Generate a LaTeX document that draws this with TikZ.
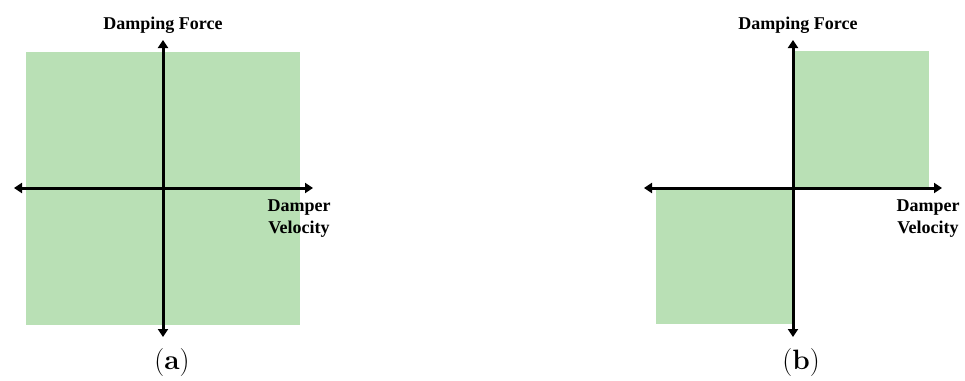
\documentclass[tikz,border=0pt]{standalone}
\usepackage{fontspec}
\setmainfont{Liberation Serif}
\newfontfamily\capfont{Latin Modern Roman}
\usetikzlibrary{arrows.meta}
\definecolor{regiongreen}{RGB}{185,224,181}
\tikzset{
  region/.style={fill=regiongreen, draw=none},
  axisline/.style={line width=3pt, {Triangle[width=10pt,length=8pt]}-{Triangle[width=10pt,length=8pt]}},
  axislabel/.style={font=\fontsize{18}{22}\selectfont\bfseries, align=center, inner sep=0pt},
  caption/.style={font=\capfont\fontsize{28}{30}\selectfont, inner sep=0pt}
}
\begin{document}
\begin{tikzpicture}[x=1pt, y=-1pt]
  \useasboundingbox (0,0) rectangle (965,380);

  % ---- (a): damping force available in all four quadrants ----
  \fill[region] (26,52) rectangle (300,325);
  \coordinate (aL) at (14,188);
  \coordinate (aR) at (313,188);
  \coordinate (aT) at (163,40);
  \coordinate (aB) at (163,337);
  \draw[axisline] (aL) -- (aR);
  \draw[axisline] (aB) -- (aT);
  \node[axislabel] (aForce) at (163,25) {Damping Force};
  \node[axislabel] (aVel) at (299,219) {Damper\\Velocity};
  \node[caption] (aCap) at (172,363) {(\textbf{a})};

  % ---- (b): damping force only in the first and third quadrants ----
  \fill[region] (793,51) rectangle (929,187);
  \fill[region] (656,188) rectangle (793,324);
  \coordinate (bL) at (644,188);
  \coordinate (bR) at (942,188);
  \coordinate (bT) at (793,40);
  \coordinate (bB) at (793,337);
  \draw[axisline] (bL) -- (bR);
  \draw[axisline] (bB) -- (bT);
  \node[axislabel] (bForce) at (798,25) {Damping Force};
  \node[axislabel] (bVel) at (928,219) {Damper\\Velocity};
  \node[caption] (bCap) at (801,363) {(\textbf{b})};
\end{tikzpicture}
\end{document}
